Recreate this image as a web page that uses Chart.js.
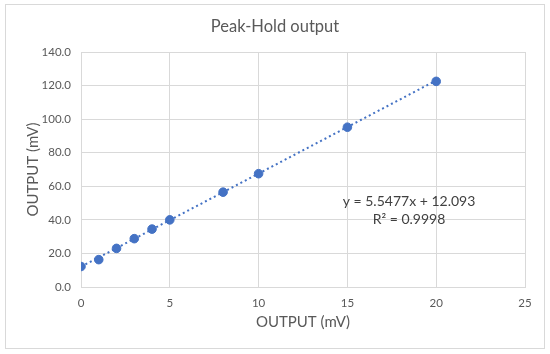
<!DOCTYPE html>
<html>
<head>
<meta charset="utf-8">
<script src="https://cdn.jsdelivr.net/npm/chart.js@4.4.0/dist/chart.umd.min.js"></script>
<style>
  body { margin: 0; background: #fff; }
  #wrap { width: 550px; height: 354px; position: relative; }
</style>
</head>
<body>
<div id="wrap"><canvas id="peakChart" width="550" height="354"></canvas></div>
<script>
// valores
const entradas = [0, 1, 2, 3, 4, 5, 8, 10, 15, 20];
const salidas = [12.2, 16.3, 23.0, 28.8, 34.5, 40.0, 56.5, 67.5, 95.2, 122.5];
const pendiente = 5.5477;
const ordenada = 12.093;
const textoEcuacion = 'y = 5.5477x + 12.093';
const textoR2 = 'R² = 0.9998';
const titulo = 'Peak-Hold output';
const tituloEjes = 'OUTPUT (mV)';

const fuente = 'Lato, "Noto Sans", sans-serif';
const gris = '#595959';
const azul = '#4472C4';

// linea de tendencia de 0 a 20
const tendencia = [entradas[0], entradas[entradas.length - 1]].map(x => ({ x: x, y: pendiente * x + ordenada }));

const marcoYTextos = {
    id: 'marcoYTextos',
    afterDraw(chart) {
        const c = chart.ctx;
        const sx = chart.scales.x;
        const sy = chart.scales.y;
        const area = chart.chartArea;
        c.save();
        c.strokeStyle = '#D9D9D9';
        c.lineWidth = 1;
        c.strokeRect(5.5, 4.5, 539, 344);

        c.fillStyle = gris;
        c.textAlign = 'center';
        c.textBaseline = 'middle';
        c.font = '16.5px ' + fuente;
        c.fillText(titulo, 275, 27);

        // titulo del eje y
        c.save();
        c.translate(33, (area.top + area.bottom) / 2);
        c.rotate(-Math.PI / 2);
        c.font = '15px ' + fuente;
        c.fillText(tituloEjes, 0, 0);
        c.restore();

        c.fillStyle = '#404040';
        c.font = '14px ' + fuente;
        c.fillText(textoEcuacion, sx.getPixelForValue(18.47), sy.getPixelForValue(50.9));
        c.fillText(textoR2, sx.getPixelForValue(18.47), sy.getPixelForValue(40.1));
        c.restore();
    }
};

new Chart(document.getElementById('peakChart'), {
    type: 'scatter',
    data: {
        datasets: [{
            label: 'datos',
            data: entradas.map((x, i) => ({ x: x, y: salidas[i] })),
            backgroundColor: azul,
            borderColor: azul,
            pointRadius: 4.3,
            pointHoverRadius: 4.3
        }, {
            label: 'tendencia',
            data: tendencia,
            type: 'line',
            showLine: true,
            borderColor: azul,
            borderWidth: 2,
            borderDash: [2, 3],
            pointRadius: 0,
            fill: false
        }]
    },
    options: {
        responsive: false,
        animation: false,
        layout: { padding: { top: 52, right: 25, left: 0, bottom: 0 } },
        plugins: {
            legend: { display: false },
            tooltip: { enabled: false }
        },
        scales: {
            x: {
                type: 'linear',
                min: 0,
                max: 25,
                ticks: { stepSize: 5, color: gris, font: { family: fuente, size: 11.5 }, padding: 9 },
                grid: { color: '#D9D9D9', drawTicks: false },
                border: { color: '#D9D9D9' },
                title: { display: true, text: tituloEjes, color: gris, font: { family: fuente, size: 15 }, padding: { top: 4, bottom: 23 } },
                afterFit(scale) { scale.height = 67; }
            },
            y: {
                min: 0,
                max: 140,
                ticks: { stepSize: 20, color: gris, font: { family: fuente, size: 11.5 }, padding: 10,
                    callback: v => v.toFixed(1) },
                grid: { color: '#D9D9D9', drawTicks: false },
                border: { color: '#D9D9D9' },
                afterFit(scale) { scale.width = 81; }
            }
        }
    },
    plugins: [marcoYTextos]
});
</script>
</body>
</html>
